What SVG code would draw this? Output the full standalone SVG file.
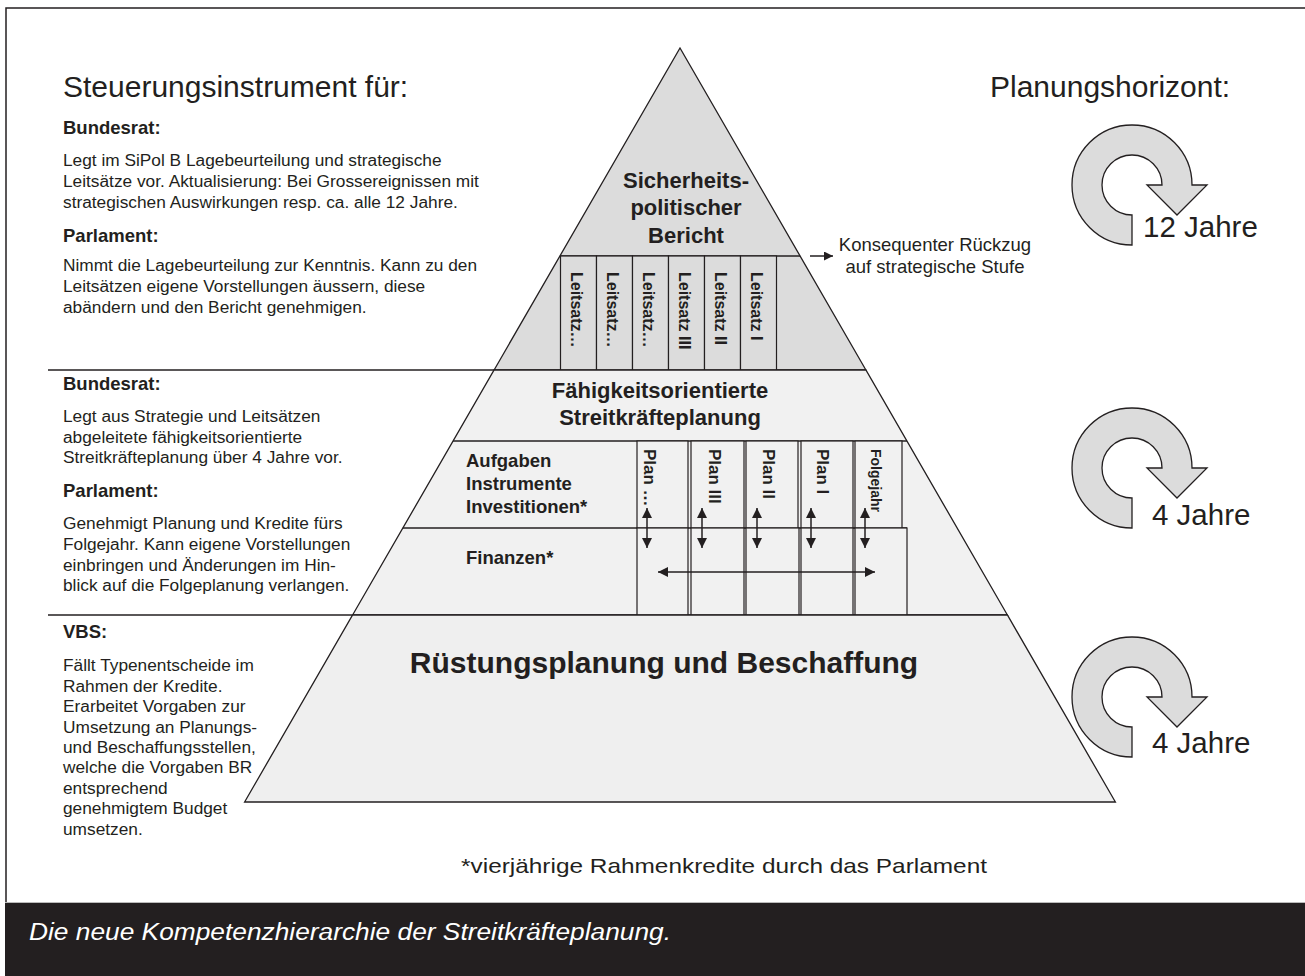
<svg xmlns="http://www.w3.org/2000/svg" width="1305" height="976" viewBox="0 0 1305 976">
<defs>
<style>
text{font-family:"Liberation Sans",Arial,Helvetica,sans-serif;fill:#231f20}
.b{font-weight:bold}
.body{font-size:17.3px}
.head{font-size:18.5px;font-weight:bold}
.big{font-size:30px}
.tier{stroke:#231f20;stroke-width:1.3;stroke-linejoin:miter}
.ln{stroke:#231f20;stroke-width:1.5;fill:none}
.col{fill:#dcdcdc;stroke:#231f20;stroke-width:1.2}
.pcol{fill:#f1f1f1;stroke:#231f20;stroke-width:1.2}
.vt{font-size:16px;font-weight:bold}
.cyc{fill:#dcdcdc;stroke:#231f20;stroke-width:1.3;stroke-linejoin:miter}
.arr{stroke:#231f20;stroke-width:1.5;fill:none}
</style>
<marker id="ah" viewBox="0 0 10 10" refX="10" refY="5" markerWidth="10" markerHeight="10" markerUnits="userSpaceOnUse" orient="auto-start-reverse">
<path d="M0,0 L10,5 L0,10 Z" fill="#231f20"/>
</marker>
<marker id="ahs" viewBox="0 0 10 10" refX="10" refY="5" markerWidth="9" markerHeight="9" markerUnits="userSpaceOnUse" orient="auto">
<path d="M0,0 L10,5 L0,10 Z" fill="#231f20"/>
</marker>
</defs>
<rect x="0" y="0" width="1305" height="976" fill="#ffffff"/>
<path d="M1305,8 H6 V902" class="ln"/>
<rect x="5" y="902" width="1300" height="74" fill="#231f20"/>
<line x1="5" y1="902.5" x2="1305" y2="902.5" stroke="#bbbbbb" stroke-width="1"/>

<!-- Pyramid tiers -->
<g id="tier-top">
<polygon class="tier" points="680,48 865.9,370 494.1,370" fill="#dcdcdc"/>
<line class="ln" x1="560" y1="256" x2="800.1" y2="256"/>
<text class="b" font-size="22" text-anchor="middle" x="686" y="188">Sicherheits-</text>
<text class="b" font-size="22" text-anchor="middle" x="686" y="215">politischer</text>
<text class="b" font-size="22" text-anchor="middle" x="686" y="243">Bericht</text>
</g>
<g id="leitsaetze">
<rect class="col" x="560.5" y="256" width="36" height="114"/>
<rect class="col" x="596.5" y="256" width="36" height="114"/>
<rect class="col" x="632.5" y="256" width="36" height="114"/>
<rect class="col" x="668.5" y="256" width="36" height="114"/>
<rect class="col" x="704.5" y="256" width="36" height="114"/>
<rect class="col" x="740.5" y="256" width="36" height="114"/>
<text class="vt" transform="translate(577,272) rotate(90)" dy="0.35em">Leitsatz…</text>
<text class="vt" transform="translate(613,272) rotate(90)" dy="0.35em">Leitsatz…</text>
<text class="vt" transform="translate(649,272) rotate(90)" dy="0.35em">Leitsatz…</text>
<text class="vt" transform="translate(685,272) rotate(90)" dy="0.35em">Leitsatz III</text>
<text class="vt" transform="translate(721,272) rotate(90)" dy="0.35em">Leitsatz II</text>
<text class="vt" transform="translate(757,272) rotate(90)" dy="0.35em">Leitsatz I</text>
</g>

<g id="tier-middle">
<polygon class="tier" points="494.1,370 865.9,370 1007.4,615 352.6,615" fill="#f1f1f1"/>
<line class="ln" x1="453.1" y1="441" x2="906.9" y2="441"/>
<line class="ln" x1="402.8" y1="528" x2="907" y2="528"/>
<text class="b" font-size="22" text-anchor="middle" x="660" y="398">Fähigkeitsorientierte</text>
<text class="b" font-size="22" text-anchor="middle" x="660" y="425">Streitkräfteplanung</text>
<text class="head" x="466" y="467">Aufgaben</text>
<text class="head" x="466" y="490">Instrumente</text>
<text class="head" x="466" y="513">Investitionen*</text>
<text class="head" x="466" y="564">Finanzen*</text>
</g>
<g id="plaene">
<rect class="pcol" x="637" y="441" width="51" height="87"/>
<rect class="pcol" x="691" y="441" width="53" height="87"/>
<rect class="pcol" x="746" y="441" width="52" height="87"/>
<rect class="pcol" x="801" y="441" width="52" height="87"/>
<rect class="pcol" x="855" y="441" width="47" height="87"/>
<rect class="pcol" x="637" y="528" width="51" height="87"/>
<rect class="pcol" x="691" y="528" width="53" height="87"/>
<rect class="pcol" x="746" y="528" width="53" height="87"/>
<rect class="pcol" x="801" y="528" width="52" height="87"/>
<rect class="pcol" x="855" y="528" width="52" height="87"/>
<text class="b" font-size="17" transform="translate(650,449) rotate(90)" dy="0.35em">Plan …</text>
<text class="b" font-size="17" transform="translate(715,449) rotate(90)" dy="0.35em">Plan III</text>
<text class="b" font-size="17" transform="translate(769,449) rotate(90)" dy="0.35em">Plan II</text>
<text class="b" font-size="17" transform="translate(823,449) rotate(90)" dy="0.35em">Plan I</text>
<text class="b" font-size="14" transform="translate(876,449) rotate(90)" dy="0.35em">Folgejahr</text>
</g>

<g id="tier-bottom">
<polygon class="tier" points="352.6,615 1007.4,615 1115.4,802 244.6,802" fill="#efefef"/>
<text class="b" font-size="30" text-anchor="middle" x="664" y="673">Rüstungsplanung und Beschaffung</text>
</g>

<!-- Section separators on left -->
<g id="separators">
<line class="ln" x1="48" y1="370" x2="494.1" y2="370"/>
<line class="ln" x1="48" y1="615" x2="352.6" y2="615"/>
</g>

<!-- Connectors -->
<g id="connectors">
<line class="arr" x1="647" y1="508" x2="647" y2="548" marker-start="url(#ah)" marker-end="url(#ah)"/>
<line class="arr" x1="702" y1="508" x2="702" y2="548" marker-start="url(#ah)" marker-end="url(#ah)"/>
<line class="arr" x1="757" y1="508" x2="757" y2="548" marker-start="url(#ah)" marker-end="url(#ah)"/>
<line class="arr" x1="811" y1="508" x2="811" y2="548" marker-start="url(#ah)" marker-end="url(#ah)"/>
<line class="arr" x1="865" y1="508" x2="865" y2="548" marker-start="url(#ah)" marker-end="url(#ah)"/>
<line class="arr" x1="658" y1="572" x2="875" y2="572" marker-start="url(#ah)" marker-end="url(#ah)"/>
<line class="arr" x1="810" y1="256" x2="833" y2="256" marker-end="url(#ahs)"/>
</g>

<g id="rueckzug">
<text font-size="18.5" text-anchor="middle" x="935" y="251">Konsequenter Rückzug</text>
<text font-size="18.5" text-anchor="middle" x="935" y="273">auf strategische Stufe</text>
</g>

<!-- Left column -->
<g id="left-title">
<text class="big" x="63" y="97">Steuerungsinstrument für:</text>
</g>
<g id="left-block-1">
<text class="head" x="63" y="134">Bundesrat:</text>
<text class="body" x="63" y="166">Legt im SiPol B Lagebeurteilung und strategische</text>
<text class="body" x="63" y="187">Leitsätze vor. Aktualisierung: Bei Grossereignissen mit</text>
<text class="body" x="63" y="208">strategischen Auswirkungen resp. ca. alle 12 Jahre.</text>
<text class="head" x="63" y="242">Parlament:</text>
<text class="body" x="63" y="271">Nimmt die Lagebeurteilung zur Kenntnis. Kann zu den</text>
<text class="body" x="63" y="292">Leitsätzen eigene Vorstellungen äussern, diese</text>
<text class="body" x="63" y="313">abändern und den Bericht genehmigen.</text>
</g>
<g id="left-block-2">
<text class="head" x="63" y="390">Bundesrat:</text>
<text class="body" x="63" y="422">Legt aus Strategie und Leitsätzen</text>
<text class="body" x="63" y="443">abgeleitete fähigkeitsorientierte</text>
<text class="body" x="63" y="463">Streitkräfteplanung über 4 Jahre vor.</text>
<text class="head" x="63" y="497">Parlament:</text>
<text class="body" x="63" y="529">Genehmigt Planung und Kredite fürs</text>
<text class="body" x="63" y="550">Folgejahr. Kann eigene Vorstellungen</text>
<text class="body" x="63" y="571">einbringen und Änderungen im Hin-</text>
<text class="body" x="63" y="591">blick auf die Folgeplanung verlangen.</text>
</g>
<g id="left-block-3">
<text class="head" x="63" y="638">VBS:</text>
<text class="body" x="63" y="671">Fällt Typenentscheide im</text>
<text class="body" x="63" y="692">Rahmen der Kredite.</text>
<text class="body" x="63" y="712">Erarbeitet Vorgaben zur</text>
<text class="body" x="63" y="733">Umsetzung an Planungs-</text>
<text class="body" x="63" y="753">und Beschaffungsstellen,</text>
<text class="body" x="63" y="773">welche die Vorgaben BR</text>
<text class="body" x="63" y="794">entsprechend</text>
<text class="body" x="63" y="814">genehmigtem Budget</text>
<text class="body" x="63" y="835">umsetzen.</text>
</g>

<!-- Right column -->
<g id="right-title">
<text class="big" x="990" y="97">Planungshorizont:</text>
</g>
<g id="cycle-12">
<path class="cyc" d="M1132,245 A60,60 0 1 1 1192,185 L1207,185 L1177,215 L1147,185 L1162,185 A30,30 0 1 0 1132,215 Z"/>
<text font-size="29.5" x="1143" y="237">12 Jahre</text>
</g>
<g id="cycle-4a">
<path class="cyc" d="M1132,528 A60,60 0 1 1 1192,468 L1207,468 L1177,498 L1147,468 L1162,468 A30,30 0 1 0 1132,498 Z"/>
<text font-size="29.5" x="1152" y="525">4 Jahre</text>
</g>
<g id="cycle-4b">
<path class="cyc" d="M1132,757 A60,60 0 1 1 1192,697 L1207,697 L1177,727 L1147,697 L1162,697 A30,30 0 1 0 1132,727 Z"/>
<text font-size="29.5" x="1152" y="753">4 Jahre</text>
</g>

<g id="footnote">
<text font-size="20" text-anchor="middle" transform="translate(724,873) scale(1.22,1)">*vierjährige Rahmenkredite durch das Parlament</text>
</g>
<g id="caption">
<text font-size="23.5" font-style="italic" transform="translate(29,940) scale(1.12,1)" style="fill:#ffffff">Die neue Kompetenzhierarchie der Streitkräfteplanung.</text>
</g>
</svg>
